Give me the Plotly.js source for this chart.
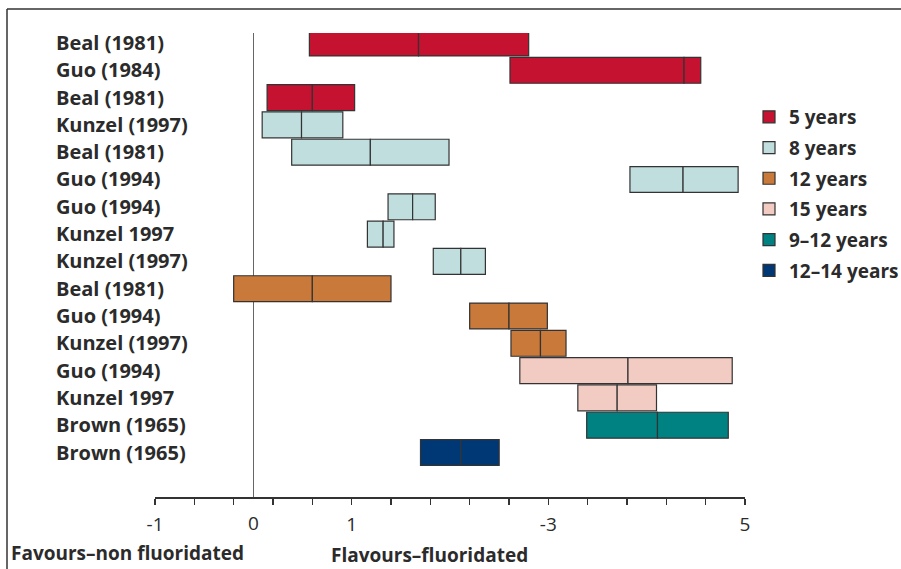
<!DOCTYPE html>
<html>
<head>
<meta charset="utf-8">
<script src="https://cdn.plot.ly/plotly-3.0.1.min.js"></script>
<style>
  html, body { margin: 0; padding: 0; background: #fff; }
  #chart { width: 901px; height: 569px; }
</style>
</head>
<body>
<div id="chart"></div>
<script>
// ---- data ----
const studies = ["Beal (1981)", "Guo (1984)", "Beal (1981)", "Kunzel (1997)", "Beal (1981)",
  "Guo (1994)", "Guo (1994)", "Kunzel 1997", "Kunzel (1997)", "Beal (1981)",
  "Guo (1994)", "Kunzel (1997)", "Guo (1994)", "Kunzel 1997", "Brown (1965)", "Brown (1965)"];
const groupIndex = [0, 0, 0, 1, 1, 1, 1, 1, 1, 2, 2, 2, 3, 3, 4, 5];
const lowerValues  = [0.57, 2.61, 0.14, 0.09, 0.39, 3.83, 1.37, 1.16, 1.83, -0.20, 2.20, 2.62, 2.71, 3.30, 3.39, 1.70];
const medianValues = [1.68, 4.38, 0.60, 0.49, 1.19, 4.37, 1.62, 1.32, 2.11, 0.60, 2.60, 2.92, 3.81, 3.70, 4.11, 2.11];
const upperValues  = [2.80, 4.55, 1.03, 0.91, 1.99, 4.93, 1.85, 1.43, 2.36, 1.40, 2.99, 3.18, 4.87, 4.10, 4.83, 2.50];
const groupNames = ["5 years", "8 years", "12 years", "15 years", "9\u201312 years", "12\u201314 years"];
const groupColors = ["#C41230", "#C0DEDE", "#C9793A", "#F2CBC2", "#008282", "#003876"];
const xTickValues = [-1, -0.6, -0.2, 0.2, 0.6, 1, 1.4, 1.8, 2.2, 2.6, 3, 3.4, 3.8, 4.2, 4.6, 5];
const xTickText   = ["-1", "", "", "", "", "1", "", "", "", "", "-3", "", "", "", "", "5"];
const leftCaption = "Favours\u2013non fluoridated";
const rightCaption = "Flavours\u2013fluoridated";

// ---- layout geometry ----
const W = 901, H = 569;
const mL = 50, mR = 156, mT = 33, mB = 72;
const pw = W - mL - mR, ph = H - mT - mB;
const px = v => (v - mL) / pw;
const py = v => (H - mB - v) / ph;

const textColor = "#2b2b2b";
const fontFam = "'Open Sans', 'DejaVu Sans', sans-serif";

const traces = [];
groupNames.forEach((name, g) => {
  const idx = groupIndex.map((gi, i) => gi === g ? i : -1).filter(i => i >= 0);
  const common = {
    type: "bar", orientation: "h", width: 0.95,
    marker: { color: groupColors[g], line: { color: "#333", width: 1.2 } },
    legendgroup: name, name: name, hoverinfo: "skip",
    xaxis: "x", yaxis: "y"
  };
  traces.push(Object.assign({}, common, {
    y: idx, base: idx.map(i => lowerValues[i]),
    x: idx.map(i => medianValues[i] - lowerValues[i]), showlegend: true
  }));
  traces.push(Object.assign({}, common, {
    y: idx, base: idx.map(i => medianValues[i]),
    x: idx.map(i => upperValues[i] - medianValues[i]), showlegend: false
  }));
});

const layout = {
  width: W, height: H,
  margin: { l: mL, r: mR, t: mT, b: mB, autoexpand: false },
  paper_bgcolor: "#fff", plot_bgcolor: "#fff",
  barmode: "overlay",
  showlegend: true,
  font: { family: fontFam, color: textColor },
  xaxis: {
    domain: [px(155), 1],
    range: [-1, 5], autorange: false,
    tickmode: "array", tickvals: xTickValues, ticktext: xTickText,
    ticks: "outside", ticklen: 6, tickwidth: 1.3, tickcolor: "#333",
    showline: true, linecolor: "#333", linewidth: 1.5,
    showgrid: false,
    zeroline: true, zerolinecolor: "#666", zerolinewidth: 1.5,
    tickfont: { size: 19, color: textColor, family: fontFam },
    ticklabelstandoff: 4,
    fixedrange: true
  },
  xaxis2: {
    domain: [px(155), 1],
    overlaying: "x", anchor: "y", side: "bottom",
    range: [-1, 5], autorange: false,
    tickmode: "array", tickvals: [0], ticktext: ["0"],
    ticks: "", showline: false, showgrid: false, zeroline: false,
    tickfont: { size: 19, color: textColor, family: fontFam },
    ticklabelstandoff: 13
  },
  yaxis: {
    anchor: "free", position: 0, side: "right",
    range: [16.63, -0.366], autorange: false,
    tickmode: "array", tickvals: studies.map((s, i) => i), ticktext: studies,
    ticks: "", showline: false, showgrid: false, zeroline: false,
    tickfont: { size: 20, color: textColor, family: fontFam, weight: "bold" },
    ticklabelstandoff: 5,
    fixedrange: true
  },
  legend: {
    x: px(749), xanchor: "left", y: py(98), yanchor: "top",
    font: { size: 19, color: textColor, family: fontFam, weight: "bold" },
    traceorder: "grouped", tracegroupgap: 3,
    bgcolor: "rgba(0,0,0,0)", borderwidth: 0
  },
  shapes: [
    { type: "line", xref: "paper", yref: "paper", x0: px(7), x1: px(W + 5), y0: py(9), y1: py(9), line: { color: "#333", width: 1.5 } },
    { type: "line", xref: "paper", yref: "paper", x0: px(7), x1: px(7), y0: py(9), y1: py(H + 5), line: { color: "#333", width: 1.5 } }
  ],
  annotations: [
    { text: leftCaption, xref: "paper", yref: "paper", x: px(9), y: py(553), xanchor: "left", yanchor: "middle", showarrow: false,
      font: { size: 19, color: textColor, family: fontFam, weight: "bold" } },
    { text: rightCaption, xref: "paper", yref: "paper", x: px(329), y: py(555), xanchor: "left", yanchor: "middle", showarrow: false,
      font: { size: 19, color: textColor, family: fontFam, weight: "bold" } }
  ]
};

// invisible helper trace so the overlaying axis carrying the "0" label is drawn
traces.push({ type: "scatter", x: [0], y: [0], xaxis: "x2", yaxis: "y", mode: "markers",
  marker: { opacity: 0 }, showlegend: false, hoverinfo: "skip" });

Plotly.newPlot("chart", traces, layout, { displayModeBar: false, staticPlot: true });
</script>
</body>
</html>
